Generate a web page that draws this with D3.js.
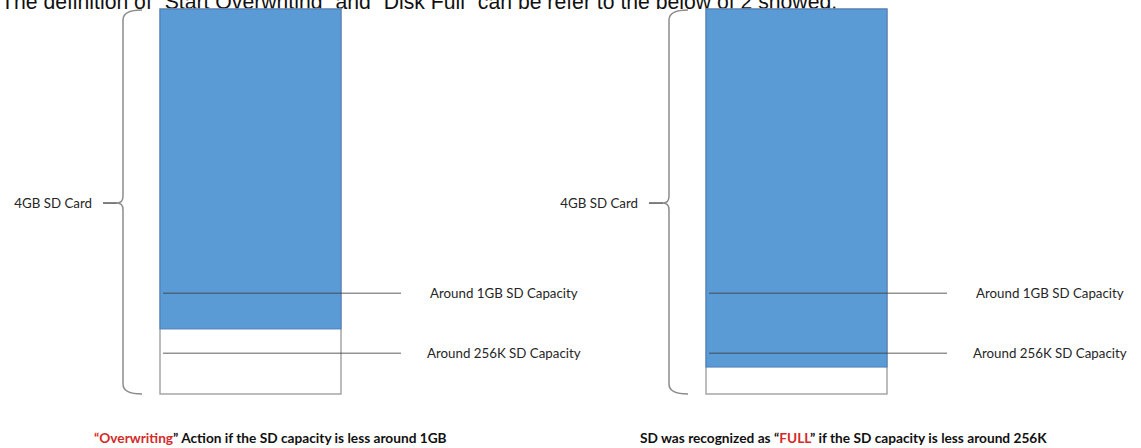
<!DOCTYPE html>
<html>
<head>
<meta charset="utf-8">
<script src="https://cdn.jsdelivr.net/npm/d3@7"></script>
<style>
	body { margin: 0; background: #fff; }
	text { font-family: Lato, "Open Sans", sans-serif; }
	text.title { font-family: "Liberation Sans", Arial, sans-serif; }
</style>
</head>
<body>
<svg id="viz"></svg>
<script>
// Panels, one per SD card state
const panels = ["overwrite", "full"];
// Where the blue (used) area ends, in % of the card height measured from the bottom
const usedLevel = [16.9, 7.0];
// Marker lines (same for both cards), in % of card height from the bottom
const markerNames = ["Around 1GB SD Capacity", "Around 256K SD Capacity"];
const markerLevel = [26.2, 10.6];
const cardLabel = "4GB SD Card";
const cardMid = 49.6;
// Captions under each card: [text, isRed]
const captions = [
	[["\u201COverwriting", true], ["\u201D Action if the SD capacity is less around 1GB", false]],
	[["SD was recognized as \u201C", false], ["FULL", true], ["\u201D if the SD capacity is less around 256K", false]]
];
const title = "The definition of \u201CStart Overwriting\u201D and \u201CDisk Full\u201D can be refer to the below of 2 showed.";

const width = 1141, height = 448;
const cardTop = 9, cardBottom = 394, cardWidth = 181;

const svg = d3.select("svg#viz").attr("width", width).attr("height", height);

// scales
const x = d3.scaleOrdinal().domain(panels).range([160, 706]);
const y = d3.scaleLinear().domain([0, 100]).range([cardBottom, cardTop]);

// title, the top of it is cut off in the original screenshot
svg.append("text")
	.attr("class", "title")
	.attr("x", 1).attr("y", 9)
	.attr("font-size", 21.2)
	.attr("fill", "#111")
	.text(title);

const panel = svg.selectAll("g.panel")
	.data(panels)
	.join("g")
	.attr("class", "panel")
	.attr("transform", d => translate(x(d), 0));

// card outline
panel.append("rect")
	.attr("x", 0).attr("y", y(100))
	.attr("width", cardWidth).attr("height", y(0) - y(100))
	.attr("fill", "#fff")
	.attr("stroke", "#a6a6a6")
	.attr("stroke-width", 1.5);

// blue used area
panel.append("rect")
	.attr("x", 0).attr("y", y(100))
	.attr("width", cardWidth)
	.attr("height", (d, i) => y(usedLevel[i]) - y(100))
	.attr("fill", "#5b9bd5")
	.attr("stroke", "#4a7ebb")
	.attr("stroke-width", 1);

// marker lines + labels
markerLevel.forEach((lvl, j) => {
	panel.append("line")
		.attr("x1", 3).attr("x2", 241)
		.attr("y1", y(lvl)).attr("y2", y(lvl))
		.attr("stroke", "#3a3a3a")
		.attr("stroke-opacity", 0.55)
		.attr("stroke-width", 1.5);
	panel.append("text")
		.attr("x", j == 0 ? 270 : 267).attr("y", y(lvl))
		.attr("dy", "0.35em")
		.attr("font-size", 13.3)
		.attr("fill", "#262626")
		.text(markerNames[j]);
});

// curly bracket for the whole card
const bx = -37, by0 = y(100) + 1, by1 = y(0), bm = y(cardMid);
const brace = d3.path();
brace.moveTo(bx + 19, by0);
brace.quadraticCurveTo(bx, by0, bx, by0 + 10);
brace.lineTo(bx, bm - 7);
brace.quadraticCurveTo(bx, bm, bx - 6, bm);
brace.quadraticCurveTo(bx, bm, bx, bm + 7);
brace.lineTo(bx, by1 - 10);
brace.quadraticCurveTo(bx, by1, bx + 19, by1);

panel.append("path")
	.attr("d", brace.toString())
	.attr("fill", "none")
	.attr("stroke", "#8c8c8c")
	.attr("stroke-width", 1.5);

panel.append("line")
	.attr("x1", -57).attr("x2", bx - 6)
	.attr("y1", bm).attr("y2", bm)
	.attr("stroke", "#555")
	.attr("stroke-width", 1.5);

panel.append("text")
	.attr("x", -68).attr("y", bm)
	.attr("dy", "0.35em")
	.attr("text-anchor", "end")
	.attr("font-size", 13.3)
	.attr("fill", "#262626")
	.text(cardLabel);

// captions
panel.append("text")
	.attr("x", -66).attr("y", 443)
	.attr("font-size", 13.7)
	.attr("font-weight", "bold")
	.attr("fill", "#111")
	.selectAll("tspan")
	.data((d, i) => captions[i])
	.join("tspan")
	.attr("fill", d => d[1] ? "#d42a2a" : "#111")
	.text(d => d[0]);

function translate(x, y) {
	return 'translate(' + x + ',' + y + ')';
}
</script>
</body>
</html>
